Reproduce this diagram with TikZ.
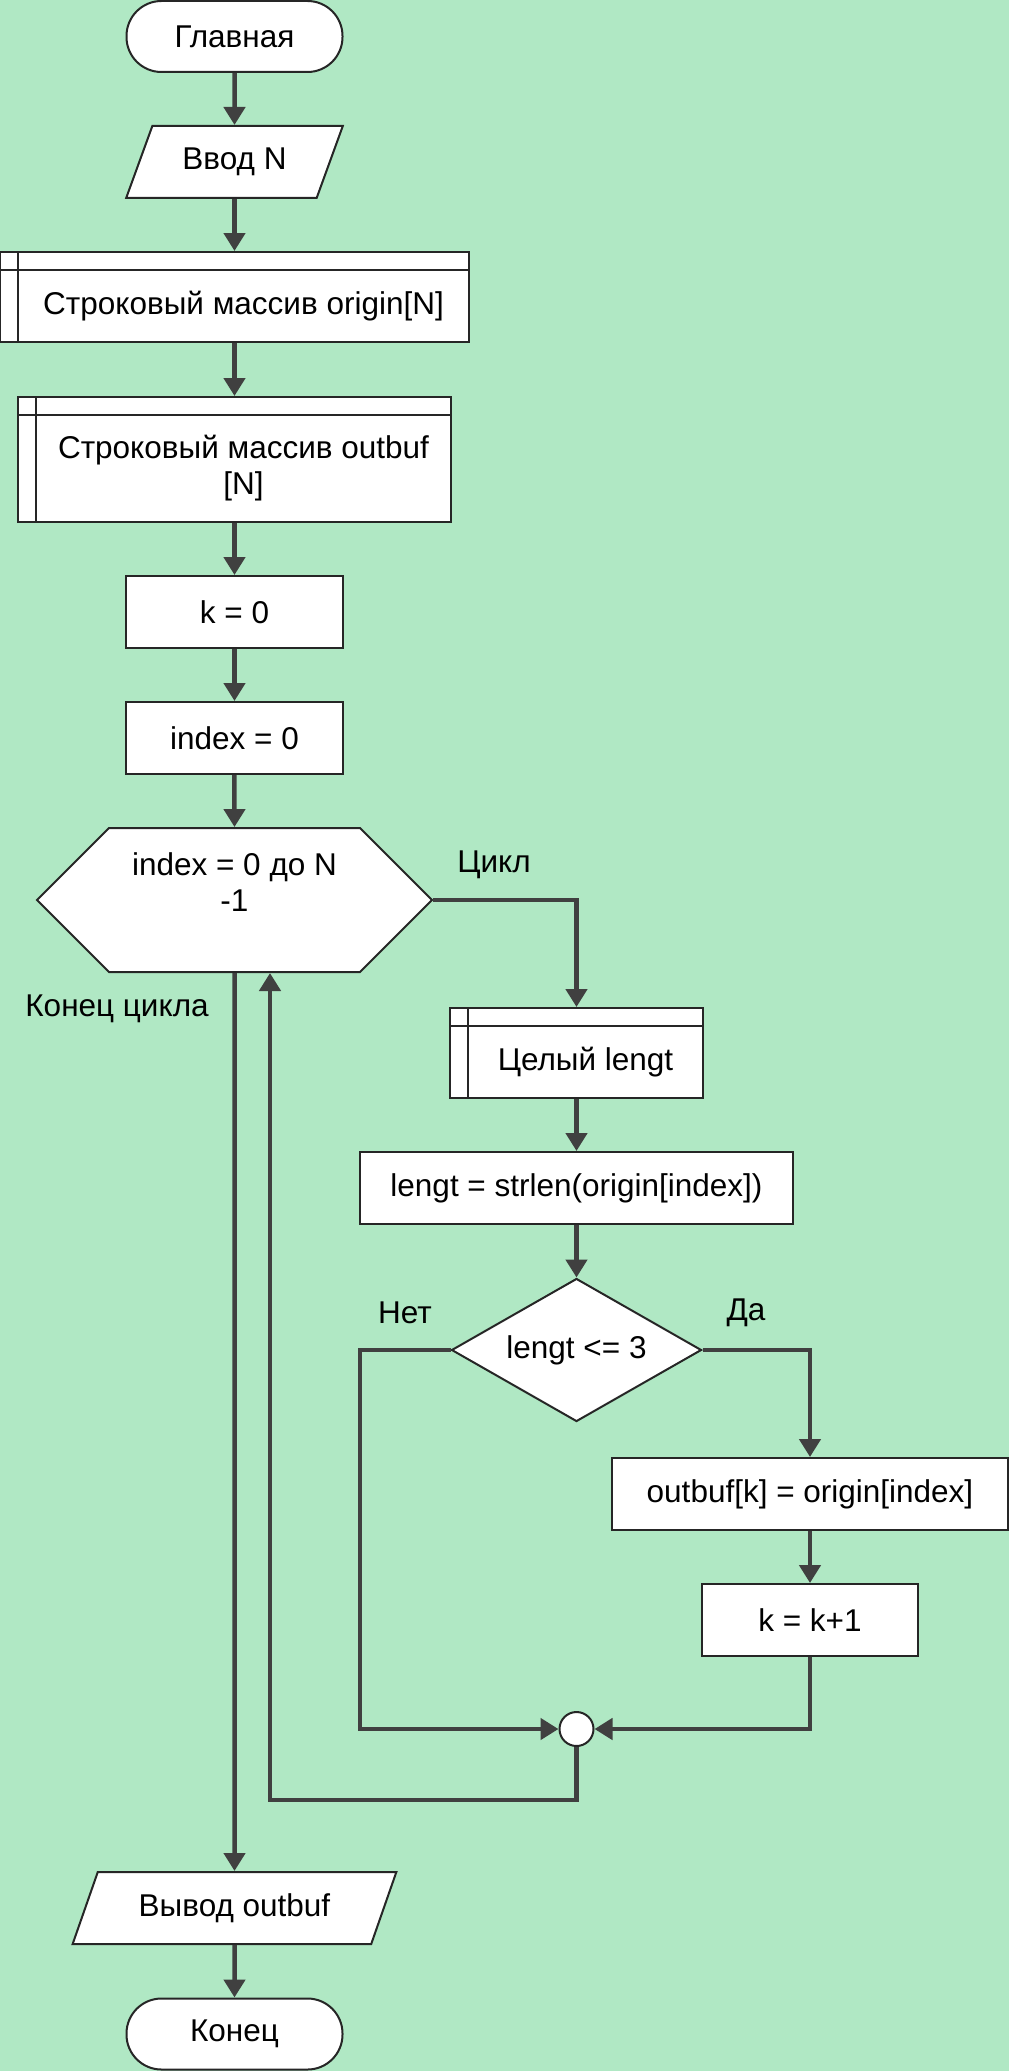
\documentclass[tikz,border=0pt]{standalone}
\usepackage{fontspec}
\setmainfont{Liberation Sans}
\usetikzlibrary{arrows.meta,shapes.geometric,shapes.symbols}

\definecolor{bggreen}{RGB}{176,232,196}
\definecolor{linegray}{RGB}{64,64,64}

\tikzset{
  every node/.style={font=\fontsize{31.5}{36}\selectfont},
  outline/.style={draw=black!85, line width=2pt},
  flow/.style={draw=linegray, line width=4.5pt, -{Triangle[length=18pt,width=21pt]}},
  term/.style={outline, fill=white, rounded corners=35pt, minimum width=216pt, minimum height=71pt},
  proc/.style={outline, fill=white, minimum height=72pt},
  io/.style={outline, fill=white, trapezium, trapezium left angle=63, trapezium right angle=117,
    trapezium stretches=true, minimum height=72pt},
  arrbox/.style={proc, path picture={
      \draw[outline] ([yshift=-18pt]path picture bounding box.north west) -- ([yshift=-18pt]path picture bounding box.north east);
      \draw[outline] ([xshift=18pt]path picture bounding box.north west) -- ([xshift=18pt]path picture bounding box.south west);}},
  cond/.style={outline, fill=white, diamond, aspect=1.75, inner sep=0pt, minimum width=250pt, minimum height=143pt},
  loopbox/.style={outline, fill=white, signal, signal to=west and east, signal pointer angle=90,
    inner sep=0pt, minimum width=395pt, minimum height=144pt},
  joint/.style={outline, fill=white, circle, inner sep=0pt, minimum size=34pt},
  lbl/.style={inner sep=0pt}
}

\begin{document}
\begin{tikzpicture}[x=1pt, y=-1pt]
  \path[use as bounding box, fill=bggreen] (0,0) rectangle (1009,2071);

  % main column
  \node[term] (start) at (234.5,36.5) {Главная};
  \node[io, minimum width=217pt] (inp) at (234.5,162) {Ввод N};
  \node[arrbox, minimum width=469pt, minimum height=90pt] (org) at (234.5,297) {};
  \node (orgtxt) at ([xshift=9pt,yshift=-9pt]org.center) {Строковый массив origin[N]};
  \node[arrbox, minimum width=433pt, minimum height=125pt] (obf) at (234.5,459.5) {};
  \node[align=center] (obftxt) at ([xshift=9pt,yshift=-9pt]obf.center) {Строковый массив outbuf\\{[N]}};
  \node[proc, minimum width=217pt] (kzero) at (234.5,612) {k = 0};
  \node[proc, minimum width=217pt] (izero) at (234.5,738) {index = 0};
  \node[loopbox, align=center] (hex) at (234.5,900) {index = 0 до N\\-1\\\rule{0pt}{1pt}};
  \node[io, minimum width=324pt] (out) at (234.5,1908) {Вывод outbuf};
  \node[term] (stop) at (234.5,2034) {Конец};

  % loop body
  \node[arrbox, minimum width=253pt, minimum height=90pt] (len) at (576.5,1053) {};
  \node (lentxt) at ([xshift=9pt,yshift=-9pt]len.center) {Целый lengt};
  \node[proc, minimum width=433pt] (calc) at (576.5,1188) {lengt = strlen(origin[index])};
  \node[cond] (cond) at (576.5,1350) {lengt <= 3};
  \node[proc, minimum width=396pt] (copy) at (810,1494) {outbuf[k] = origin[index]};
  \node[proc, minimum width=216pt] (inc) at (810,1620) {k = k+1};
  \node[joint] (join) at (576.5,1729) {};

  % labels
  \node[lbl] (lcyc) at (494,865) {Цикл};
  \node[lbl] (lend) at (117,1009) {Конец цикла};
  \node[lbl] (lno) at (405,1313) {Нет};
  \node[lbl] (lyes) at (746,1313) {Да};

  \coordinate (nobend) at (360,1729);
  \coordinate (back) at (270,1800);

  \draw[flow] (start) -- (inp);
  \draw[flow] (inp) -- (org);
  \draw[flow] (org) -- (obf);
  \draw[flow] (obf) -- (kzero);
  \draw[flow] (kzero) -- (izero);
  \draw[flow] (izero) -- (hex);
  \draw[flow] (hex.east) -| (len.north);
  \draw[flow] (len) -- (calc);
  \draw[flow] (calc) -- (cond);
  \draw[flow] (cond.east) -| (copy.north);
  \draw[flow] (copy) -- (inc);
  \draw[flow] (inc.south) |- (join.east);
  \draw[flow] (cond.west) -| (nobend) -- (join.west);
  \draw[flow] (join.south) |- (back) -- (back |- hex.south);
  \draw[flow] (hex.south) -- (out.north);
  \draw[flow] (out) -- (stop);
\end{tikzpicture}
\end{document}
